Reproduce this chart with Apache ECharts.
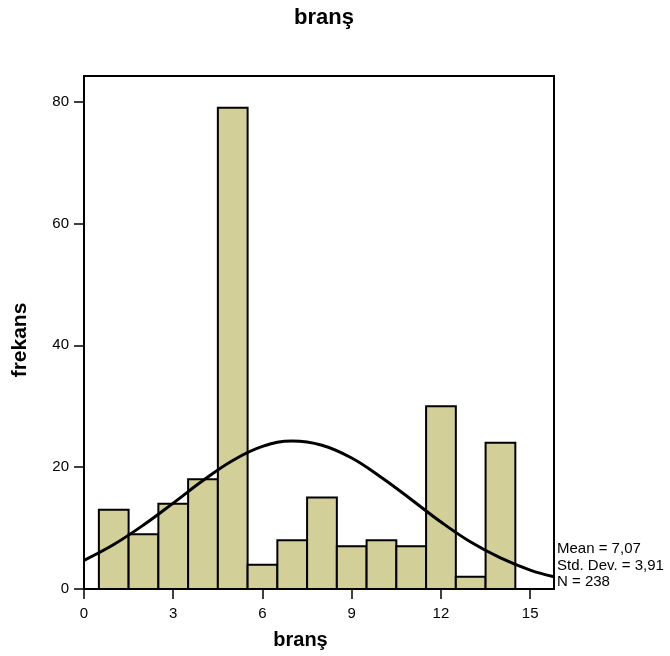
<!DOCTYPE html>
<html>
<head>
<meta charset="utf-8">
<script src="https://cdn.jsdelivr.net/npm/echarts@6/dist/echarts.min.js"></script>
<style>html,body{margin:0;padding:0;background:#fff}#c{width:670px;height:656px}</style>
</head>
<body>
<div id="c"></div>
<script>
const binCenters = [1, 2, 3, 4, 5, 6, 7, 8, 9, 10, 11, 12, 13, 14];
const frequencies = [13, 9, 14, 18, 79, 4, 8, 15, 7, 8, 7, 30, 2, 24];
const curveX = [0, 1, 2, 3, 4, 5, 6, 7, 8, 9, 10, 11, 12, 13, 14, 15, 15.8];
const curveY = [4.7, 7.3, 10.5, 14.1, 17.8, 21.1, 23.4, 24.3, 23.6, 21.5, 18.3, 14.7, 11.0, 7.7, 5.1, 3.1, 2.0];
const xTicks = [0, 3, 6, 9, 12, 15];
const yTicks = [0, 20, 40, 60, 80];
const statsText = ['Mean = 7,07', 'Std. Dev. = 3,91', 'N = 238'];

const FONT = 'Liberation Sans, Arial, sans-serif';
const chart = echarts.init(document.getElementById('c'));
chart.setOption({
  animation: false,
  backgroundColor: '#fff',
  title: {
    text: 'branş', left: 319, top: 2, textAlign: 'center',
    textStyle: { fontFamily: FONT, fontSize: 22, fontWeight: 'bold', color: '#000' }
  },
  grid: {
    left: 84, right: 116, top: 76, bottom: 67,
    show: true, borderColor: '#000', borderWidth: 2, backgroundColor: '#fff'
  },
  xAxis: {
    type: 'value', min: 0, max: 15.8,
    splitLine: { show: false },
    axisLine: { show: true, onZero: false, lineStyle: { color: '#000', width: 2 } },
    axisTick: { show: true, customValues: xTicks, length: 10, lineStyle: { color: '#000', width: 1.5 } },
    axisLabel: { customValues: xTicks, margin: 17, color: '#000', fontFamily: FONT, fontSize: 15 }
  },
  yAxis: {
    type: 'value', min: 0, max: 84.2,
    splitLine: { show: false },
    axisLine: { show: true, lineStyle: { color: '#000', width: 2 } },
    axisTick: { show: true, customValues: yTicks, length: 10, lineStyle: { color: '#000', width: 1.5 } },
    axisLabel: { customValues: yTicks, margin: 15, color: '#000', fontFamily: FONT, fontSize: 15 }
  },
  graphic: [
    {
      type: 'text', x: 20, y: 340, rotation: Math.PI / 2,
      style: { text: 'frekans', align: 'center', verticalAlign: 'middle', fill: '#000',
        font: 'bold 21px ' + FONT }
    },
    {
      type: 'text', x: 300.5, y: 640,
      style: { text: 'branş', align: 'center', verticalAlign: 'middle', fill: '#000',
        font: 'bold 20px ' + FONT }
    },
    {
      type: 'text', x: 557, y: 541,
      style: { text: statsText.join('\n'), align: 'left', verticalAlign: 'top', fill: '#000',
        font: '15px ' + FONT, lineHeight: 16.5 }
    }
  ],
  series: [
    {
      type: 'custom',
      data: binCenters.map((c, i) => [c, frequencies[i]]),
      renderItem: function (params, api) {
        const c = api.value(0), v = api.value(1);
        const p0 = api.coord([c - 0.5, v]);
        const p1 = api.coord([c + 0.5, 0]);
        return {
          type: 'rect',
          shape: { x: p0[0], y: p0[1], width: p1[0] - p0[0], height: p1[1] - p0[1] },
          style: { fill: '#d3cf99', stroke: '#000', lineWidth: 2 }
        };
      },
      z: 2
    },
    {
      type: 'line',
      data: curveX.map((x, i) => [x, curveY[i]]),
      smooth: 0.4,
      showSymbol: false,
      clip: true,
      lineStyle: { color: '#000', width: 3 },
      z: 3
    }
  ]
});
</script>
</body>
</html>
